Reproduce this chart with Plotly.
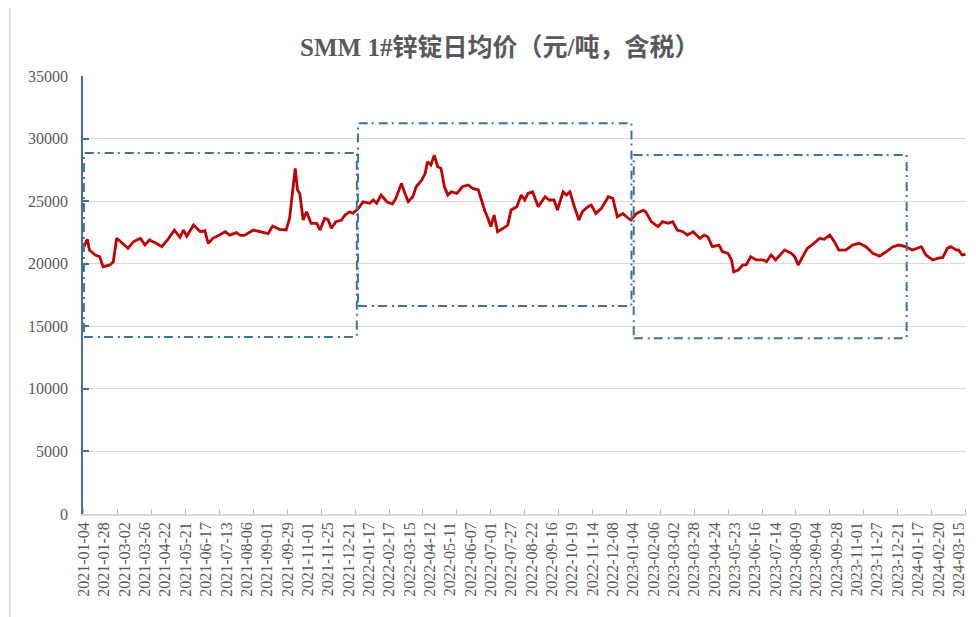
import plotly.graph_objects as go

# SMM 1# zinc ingot daily average price (yuan/ton, tax incl.)
# x = trading day number counted from 2021-01-04
tick_labels = [
    "2021-01-04", "2021-01-28", "2021-03-02", "2021-03-26", "2021-04-22", "2021-05-21",
    "2021-06-17", "2021-07-13", "2021-08-06", "2021-09-01", "2021-09-29", "2021-11-01",
    "2021-11-25", "2021-12-21", "2022-01-17", "2022-02-17", "2022-03-15", "2022-04-12",
    "2022-05-11", "2022-06-07", "2022-07-01", "2022-07-27", "2022-08-22", "2022-09-16",
    "2022-10-19", "2022-11-14", "2022-12-08", "2023-01-04", "2023-02-06", "2023-03-02",
    "2023-03-28", "2023-04-24", "2023-05-23", "2023-06-16", "2023-07-14", "2023-08-09",
    "2023-09-04", "2023-09-28", "2023-11-01", "2023-11-27", "2023-12-21", "2024-01-17",
    "2024-02-20", "2024-03-15",
]
label_step = 18  # trading days between two labels

trade_day = [
    0, 3, 5, 10, 14, 17, 23, 26, 29, 33, 39, 44, 50, 54, 58, 64, 69, 75, 80, 85,
    88, 91, 97, 103, 107, 110, 114, 120, 125, 129, 135, 138, 142, 150, 159, 163, 167, 173, 179, 182,
    187, 189, 191, 194, 197, 201, 206, 209, 213, 216, 219, 223, 228, 231, 235, 238, 243, 247, 253, 256,
    259, 263, 268, 273, 276, 281, 284, 287, 291, 294, 299, 302, 304, 307, 310, 313, 316, 319, 322, 325,
    330, 335, 340, 344, 349, 352, 355, 357, 360, 363, 366, 371, 375, 378, 383, 387, 390, 393, 397, 402,
    408, 412, 416, 419, 424, 427, 430, 434, 438, 441, 446, 449, 453, 458, 464, 468, 472, 477, 480, 484,
    489, 495, 497, 502, 508, 512, 517, 521, 525, 530, 534, 539, 545, 549, 552, 556, 562, 565, 570, 573,
    575, 579, 583, 586, 590, 595, 601, 604, 608, 612, 620, 626, 629, 632, 636, 640, 646, 651, 655, 660,
    664, 668, 674, 680, 686, 692, 698, 704, 710, 716, 721, 727, 733, 738, 741, 745, 751, 755, 760, 764,
    767, 772, 774, 777, 780,
]
price = [
    21360, 21950, 21100, 20700, 20560, 19760, 19900, 20160, 22030, 21680, 21230, 21760, 22030, 21490, 21890, 21630, 21360, 22030, 22690, 22110,
    22690, 22200, 23090, 22560, 22640, 21630, 22030, 22290, 22560, 22290, 22480, 22290, 22260, 22690, 22480, 22400, 23010, 22750, 22700, 23630,
    27620, 25890, 25620, 23490, 24150, 23230, 23230, 22690, 23630, 23520, 22830, 23360, 23490, 23890, 24150, 24020, 24430, 24950, 24830, 25090,
    24830, 25490, 24950, 24770, 25220, 26420, 25620, 24950, 25350, 26150, 26690, 27220, 28150, 27890, 28680, 27750, 27620, 26150, 25490, 25750,
    25620, 26150, 26290, 26020, 25890, 24950, 24150, 23750, 22960, 23890, 22560, 22830, 23090, 24290, 24550, 25490, 25090, 25620, 25750, 24550,
    25350, 25090, 25090, 24290, 25750, 25490, 25750, 24550, 23490, 24150, 24550, 24690, 24020, 24430, 25350, 25220, 23750, 24020, 23750, 23490,
    24020, 24290, 24150, 23360, 22960, 23360, 23230, 23360, 22690, 22560, 22290, 22560, 22030, 22290, 22160, 21360, 21490, 20960, 20830, 20300,
    19360, 19500, 19900, 19900, 20560, 20300, 20300, 20160, 20700, 20300, 21090, 20830, 20560, 19900, 20560, 21230, 21630, 22030, 21950, 22290,
    21760, 21090, 21090, 21490, 21630, 21360, 20830, 20610, 20960, 21360, 21490, 21360, 21090, 21230, 21360, 20700, 20300, 20430, 20500, 21230,
    21360, 21090, 21100, 20700, 20750,
]

# highlighted periods (dash-dot boxes): x0, x1, y0, y1
boxes = [
    (0, 241.5, 14150, 28850),
    (242.5, 484.5, 16620, 31220),
    (486.5, 728, 14050, 28680),
]

BLUE = "#41719C"
GRID = "#D9D9D9"
TEXT = "#595959"
SERIF = "Liberation Serif, Noto Sans CJK SC, serif"

fig = go.Figure()
fig.add_trace(go.Scatter(
    x=trade_day, y=price, mode="lines",
    line=dict(color="#C00000", width=2.8),
    showlegend=False, hoverinfo="y",
))

for x0, x1, y0, y1 in boxes:
    fig.add_shape(type="rect", xref="x", yref="y", x0=x0, x1=x1, y0=y0, y1=y1,
                  line=dict(color=BLUE, width=2, dash="9px,5px,2px,4px"), layer="above")

# light frame on the left of the chart area
fig.add_shape(type="line", xref="paper", yref="paper",
              x0=-0.083, x1=-0.083, y0=-0.25, y1=1.2,
              line=dict(color=GRID, width=1.5))

# the page body adds an 8px offset, so the figure is a little smaller than the window
fig.update_layout(
    width=968, height=609,
    margin=dict(l=75, r=10, t=68, b=103, autoexpand=False),
    paper_bgcolor="white", plot_bgcolor="white",
    title=dict(text="<b>SMM 1#锌锭日均价（元/吨，含税）</b>",
               x=0.508, xanchor="center", xref="container",
               y=0.936, yanchor="middle", yref="container",
               font=dict(family=SERIF, size=25, color=TEXT)),
)
fig.update_xaxes(
    automargin=False,
    range=[-0.8, 780.5],
    tickmode="array",
    tickvals=[i * label_step for i in range(len(tick_labels))],
    ticktext=tick_labels,
    tickangle=-90,
    ticks="",
    tickfont=dict(family=SERIF, size=16, color=TEXT),
    showgrid=False, zeroline=False,
    showline=True, linecolor=GRID, linewidth=1.5,
    minor=dict(tickmode="linear", tick0=0, dtick=30, ticks="inside",
               ticklen=5, tickcolor="#BFBFBF", tickwidth=1, showgrid=False),
)
fig.update_yaxes(
    automargin=False,
    range=[0, 35000], dtick=5000, tickformat="d",
    tickfont=dict(family=SERIF, size=16, color=TEXT),
    showgrid=True, gridcolor=GRID, gridwidth=1.3, zeroline=False,
    showline=True, linecolor=BLUE, linewidth=1.8,
    ticks="inside", ticklen=6, tickcolor=BLUE, tickwidth=1.5,
    ticklabelstandoff=10,
)

fig.write_html("out.html")
